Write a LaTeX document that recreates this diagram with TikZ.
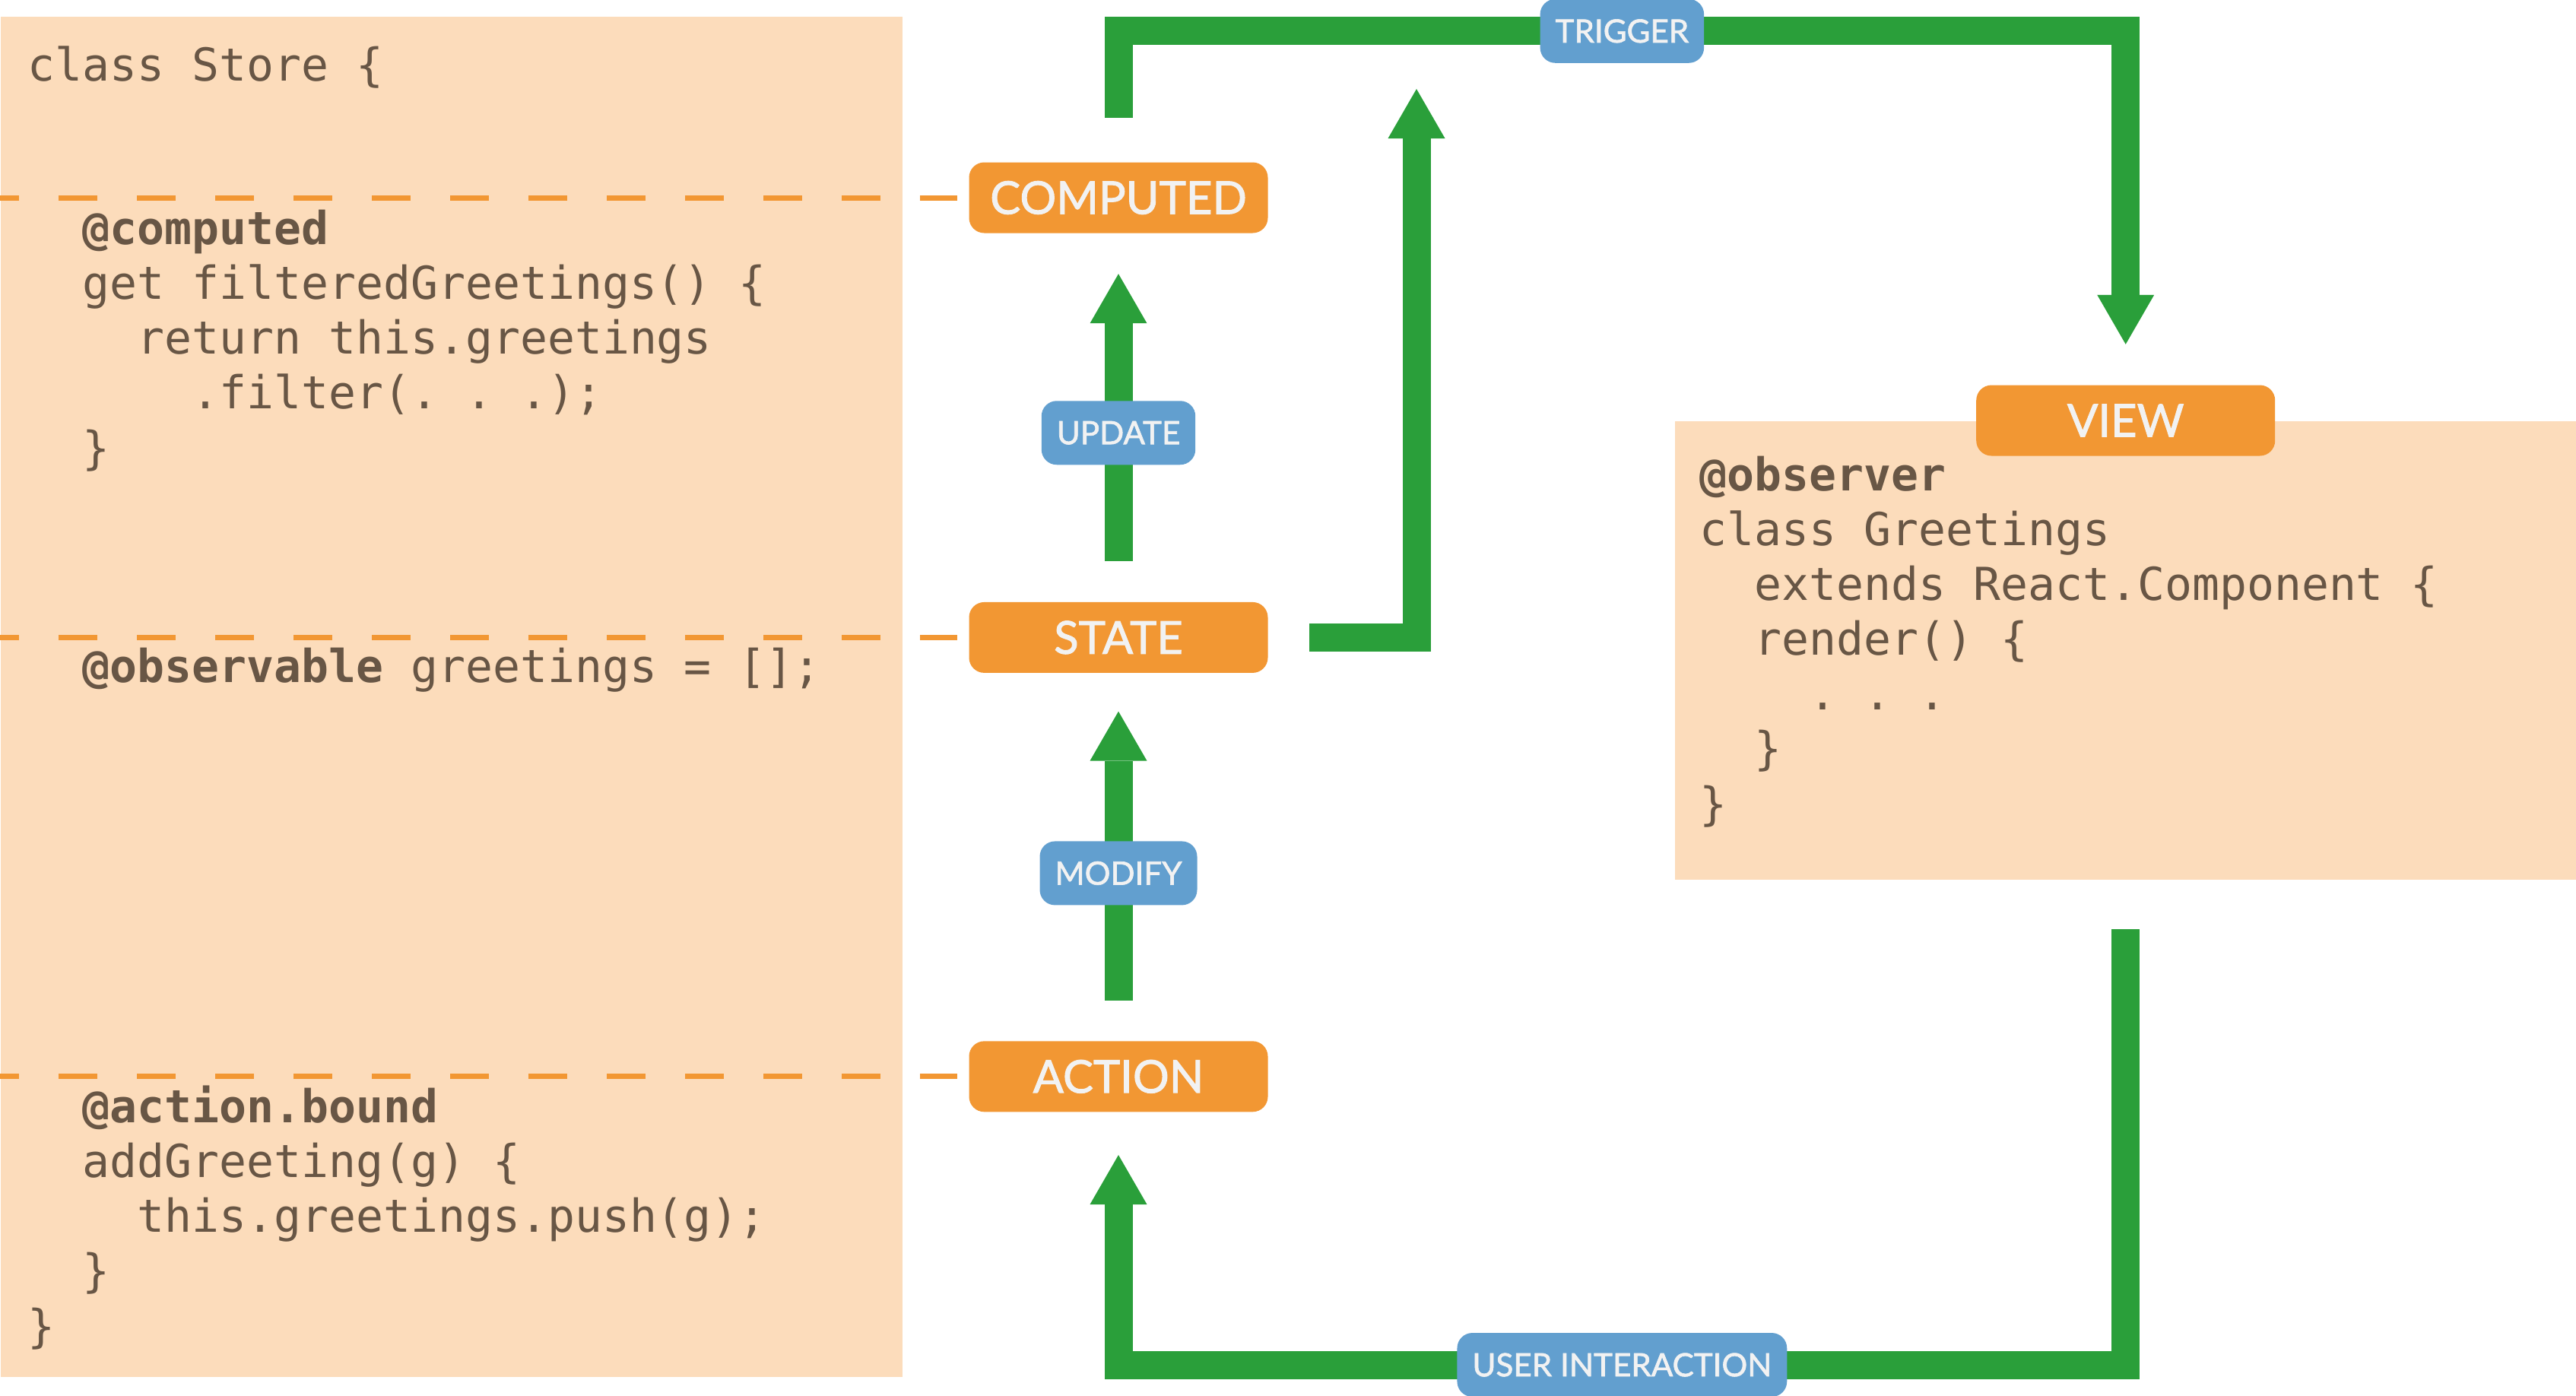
\documentclass[tikz,border=0pt]{standalone}
\usepackage{fontspec}
\usepackage{tikz}
\usetikzlibrary{arrows.meta,positioning}
\setmainfont{Lato}
\newfontfamily\labelfont[FakeBold=1.6]{Lato}
\newfontfamily\codefont{DejaVu Sans Mono}
\definecolor{storePeach}{RGB}{252,220,187}
\definecolor{codeBrown}{RGB}{104,86,69}
\definecolor{stageOrange}{RGB}{242,151,51}
\definecolor{tagBlue}{RGB}{98,159,207}
\definecolor{flowGreen}{RGB}{42,159,58}
\definecolor{labelWhite}{RGB}{242,242,242}
\newcommand{\ctab}{\phantom{xx}}

\begin{document}
\begin{tikzpicture}[
    x=1cm, y=-1cm,
    >={Triangle[width=7.5mm,length=6.5mm,line width=0pt]},
    panel/.style={fill=storePeach, inner sep=0pt, anchor=north west},
    code/.style={
        anchor=base west,
        align=left,
        inner sep=0pt,
        text=codeBrown,
        font=\codefont\fontsize{17pt}{20.5pt}\selectfont\frenchspacing
    },
    stage/.style={
        fill=stageOrange,
        rounded corners=2mm,
        text=labelWhite,
        minimum width=3.93cm,
        minimum height=0.93cm,
        font=\labelfont\fontsize{17pt}{20pt}\selectfont
    },
    tag/.style={
        fill=tagBlue,
        rounded corners=2mm,
        text=labelWhite,
        inner xsep=2mm,
        minimum width=2cm,
        minimum height=0.84cm,
        font=\labelfont\fontsize{12pt}{14pt}\selectfont
    },
    flow/.style={draw=flowGreen, line width=3.7mm, ->},
    cut/.style={draw=stageOrange, line width=0.7mm,
        dash pattern=on 5.1mm off 5.2mm, dash phase=2.6mm}
]
  \useasboundingbox (0,0) rectangle (33.88,18.35);

  % code panels
  \node[panel, minimum width=11.86cm, minimum height=17.89cm] (store) at (0,0.21) {};
  \node[panel, minimum width=11.86cm, minimum height=6.03cm] (viewpanel) at (22.02,5.53) {};

  % stages
  \node[stage] (computed) at (14.71,2.60) {COMPUTED};
  \node[stage, below=4.84cm of computed] (state) {STATE};
  \node[stage, below=4.83cm of state] (action) {ACTION};
  \node[stage] (view) at (viewpanel.north) {VIEW};

  \foreach \s in {computed,state,action}
    \draw[cut] (store.west |- \s.west) -- ([xshift=-1.5mm]\s.west);

  % store code (base = last line)
  \node[code] (storehead) at (0.36,1.06) {class Store \{};
  \node[code] (computedcode) at (0.36,6.10) {\ctab\textbf{@computed}\\
    \ctab get filteredGreetings() \{\\
    \ctab\ctab return this.greetings\\
    \ctab\ctab\ctab .filter(. . .);\\
    \ctab \}};
  \node[code] (statecode) at (0.36,8.97) {\ctab\textbf{@observable} greetings = [];};
  \node[code] (actioncode) at (0.36,17.65) {\ctab\textbf{@action.bound}\\
    \ctab addGreeting(g) \{\\
    \ctab\ctab this.greetings.push(g);\\
    \ctab \}\\
    \}};

  % view code
  \node[code] (viewcode) at (22.35,10.78) {\textbf{@observer}\\
    class Greetings\\
    \ctab extends React.Component \{\\
    \ctab render() \{\\
    \ctab\ctab . . .\\
    \ctab \}\\
    \}};

  % flows
  \coordinate (feedtip) at (18.63,1.17);
  \draw[flow] ([yshift=0.58cm]computed.north) -- ++(0,-1.14)
    -| node[tag, pos=0.25] (trigger) {TRIGGER} ([yshift=0.53cm]view.north);
  \draw[flow] ([yshift=0.53cm]state.north)
    -- node[tag, pos=0.447] (update) {UPDATE} ([yshift=-0.53cm]computed.south);
  \draw[flow] ([xshift=0.54cm]state.east) -| (feedtip);
  \draw[flow] ([yshift=0.53cm]action.north)
    -- node[tag, pos=0.44] (modify) {MODIFY} ([yshift=-0.5cm]state.south);
  \draw[flow] ([yshift=-0.65cm]viewpanel.south)
    |- node[tag, pos=0.75] (user) {USER INTERACTION} ([yshift=-3.32cm]action.south)
    -- ([yshift=-0.56cm]action.south);
\end{tikzpicture}
\end{document}
